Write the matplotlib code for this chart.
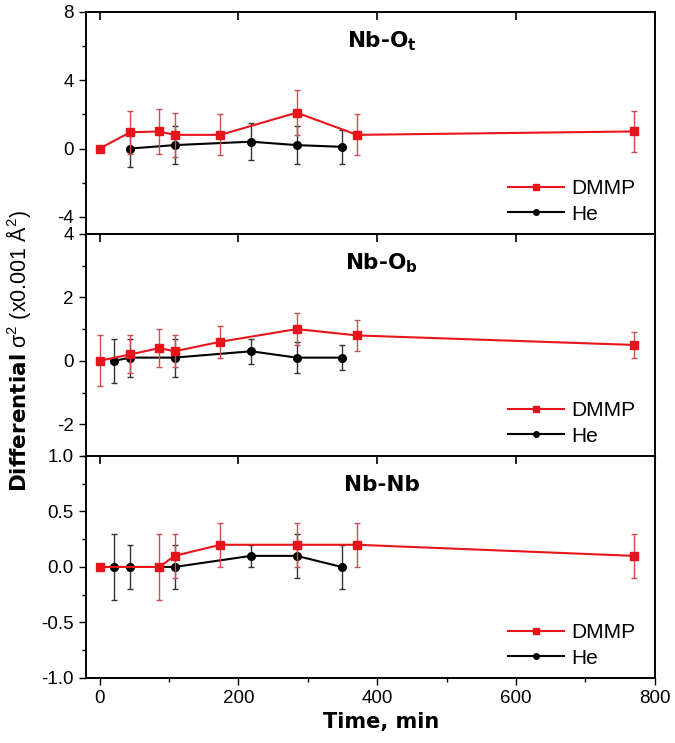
import numpy as np
import matplotlib
matplotlib.use("Agg")
import matplotlib.pyplot as plt
from matplotlib.ticker import MultipleLocator, NullLocator
from matplotlib.lines import Line2D

plt.rcParams["font.family"] = ["Liberation Sans", "DejaVu Sans"]
plt.rcParams["axes.unicode_minus"] = False
plt.rcParams["mathtext.fontset"] = "custom"
plt.rcParams["mathtext.rm"] = "Liberation Sans"
plt.rcParams["mathtext.bf"] = "DejaVu Sans:bold"

# Nb-Ot
ot_dmmp_t = [0, 44, 86, 108, 174, 284, 371, 770]
ot_dmmp_y = [0, 0.95, 1.0, 0.8, 0.8, 2.1, 0.8, 1.0]
ot_dmmp_e = [0, 1.25, 1.3, 1.3, 1.2, 1.3, 1.2, 1.2]
ot_he_t = [44, 108, 218, 284, 349]
ot_he_y = [0, 0.2, 0.4, 0.2, 0.1]
ot_he_e = [1.1, 1.1, 1.1, 1.1, 1.0]

# Nb-Ob
ob_dmmp_t = [0, 44, 86, 108, 174, 284, 371, 770]
ob_dmmp_y = [0, 0.2, 0.4, 0.3, 0.6, 1.0, 0.8, 0.5]
ob_dmmp_e = [0.8, 0.6, 0.6, 0.5, 0.5, 0.5, 0.5, 0.4]
ob_he_t = [21, 44, 108, 218, 284, 349]
ob_he_y = [0, 0.1, 0.1, 0.3, 0.1, 0.1]
ob_he_e = [0.7, 0.6, 0.6, 0.4, 0.5, 0.4]

# Nb-Nb
nb_dmmp_t = [0, 86, 108, 174, 284, 371, 770]
nb_dmmp_y = [0, 0, 0.1, 0.2, 0.2, 0.2, 0.1]
nb_dmmp_e = [0, 0.3, 0.2, 0.2, 0.2, 0.2, 0.2]
nb_he_t = [21, 44, 108, 218, 284, 349]
nb_he_y = [0, 0, 0, 0.1, 0.1, 0]
nb_he_e = [0.3, 0.2, 0.2, 0.1, 0.2, 0.2]

panels = [
    ("Nb-O$_\\mathbf{t}$", ot_dmmp_t, ot_dmmp_y, ot_dmmp_e, ot_he_t, ot_he_y, ot_he_e, (-5, 8), 2, [-4, 0, 4, 8]),
    ("Nb-O$_\\mathbf{b}$", ob_dmmp_t, ob_dmmp_y, ob_dmmp_e, ob_he_t, ob_he_y, ob_he_e, (-3, 4), 1, [-2, 0, 2, 4]),
    ("Nb-Nb", nb_dmmp_t, nb_dmmp_y, nb_dmmp_e, nb_he_t, nb_he_y, nb_he_e, (-1, 1), 0.25, [-1, -0.5, 0, 0.5, 1]),
]

RED = "#e8141c"
XLIM = (-20, 800)

fig = plt.figure(figsize=(6.75, 7.43), dpi=100)
left, right, top, bottom = 0.127, 0.970, 0.984, 0.0875
h = (top - bottom) / 3
axes = []
for i, p in enumerate(panels):
    title, dt, dy, de, ht, hy, he, ylim, mnr, yt = p
    ax = fig.add_axes([left, top - (i + 1) * h, right - left, h])
    axes.append(ax)
    ax.errorbar(dt, dy, yerr=de, color=RED, ecolor="#cc5050", elinewidth=1,
                capsize=2.5, capthick=1, marker="s", ms=5.5, lw=1.5, zorder=3)
    ax.errorbar(ht, hy, yerr=he, color="black", ecolor="#333333", elinewidth=1,
                capsize=2.5, capthick=1, marker="o", ms=5.5, lw=1.5, zorder=2)
    ax.set_xlim(*XLIM)
    ax.set_ylim(*ylim)
    ax.set_yticks(yt)
    if i == 2:
        ax.set_yticklabels(["-1.0", "-0.5", "0.0", "0.5", "1.0"])
    ax.yaxis.set_minor_locator(MultipleLocator(mnr))
    ax.xaxis.set_major_locator(MultipleLocator(200))
    ax.xaxis.set_minor_locator(MultipleLocator(100))
    ax.tick_params(axis="y", which="major", direction="out", length=5, width=1, labelsize=13.5)
    ax.tick_params(axis="y", which="minor", direction="out", length=3, width=1)
    if i == 2:
        ax.tick_params(axis="x", which="major", direction="out", length=5, width=1, labelsize=13.5)
        ax.tick_params(axis="x", which="minor", direction="out", length=3, width=1)
    else:
        ax.tick_params(axis="x", which="both", bottom=False, labelbottom=False)
    # inward ticks on the top edge
    tw = ax.twiny()
    tw.set_xlim(*XLIM)
    tw.xaxis.set_major_locator(MultipleLocator(200))
    tw.xaxis.set_minor_locator(NullLocator())
    tw.tick_params(axis="x", which="major", direction="in", length=6, width=1.2, labeltop=False)
    for a in (ax, tw):
        for sp in a.spines.values():
            sp.set_linewidth(1.2)
    ax.text(0.52, 0.84, title, transform=ax.transAxes, ha="center", va="baseline",
            fontsize=15.5, fontweight="bold", family="DejaVu Sans")
    handles = [Line2D([], [], color=RED, marker="s", ms=4, lw=1.5),
               Line2D([], [], color="black", marker="o", ms=4, lw=1.5)]
    ax.legend(handles, ["DMMP", "He"], loc="lower right", frameon=False, fontsize=15,
              handlelength=2.7, borderaxespad=0.1, labelspacing=0.3, handletextpad=0.35,
              bbox_to_anchor=(0.985, 0.0))

axes[2].set_xlabel("Time, min", fontsize=15, fontweight="bold", family="DejaVu Sans")
axes[2].xaxis.set_label_coords(0.52, -0.155)
fig.text(0.027, 0.527, "$\\mathbf{Differential}$ σ$^2$ (x0.001 Å$^2$)", rotation=90,
         ha="center", va="center", fontsize=15.5)

fig.savefig("out.png", dpi=100)
